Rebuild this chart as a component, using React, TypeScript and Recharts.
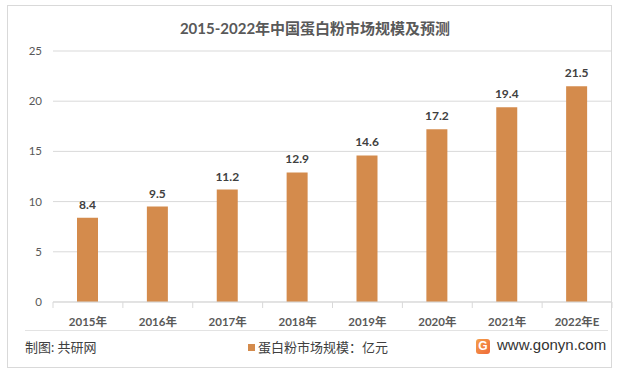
import React from "react";
import { BarChart, Bar, XAxis, YAxis, CartesianGrid, LabelList } from "recharts";

const categories = ["2015年", "2016年", "2017年", "2018年", "2019年", "2020年", "2021年", "2022年E"];
const marketSize = [8.4, 9.5, 11.2, 12.9, 14.6, 17.2, 19.4, 21.5];
const yTicks = [0, 5, 10, 15, 20, 25];
const seriesName = "蛋白粉市场规模：亿元";
const titleText = "2015-2022年中国蛋白粉市场规模及预测";
const sourceText = "制图: 共研网";
const siteText = "www.gonyn.com";

const data = categories.map((c, i) => ({ name: c, value: marketSize[i] }));

const W = 617;
const H = 374;
const M = { top: 51, right: 5, bottom: 42, left: 0 };
const Y_W = 53;
const PLOT_W = W - M.left - M.right - Y_W;
const BAND = PLOT_W / categories.length;
const FONT = "Lato, 'Noto Sans CJK SC', sans-serif";
const BAR_COLOR = "#D48B4C";

const XTick = (props: any) => {
  const { x, y, payload, index } = props;
  const isLast = index === categories.length - 1;
  return (
    <g>
      <line x1={x - BAND / 2} x2={x - BAND / 2} y1={y} y2={y + 6} stroke="#d9d9d9" />
      {isLast && <line x1={x + BAND / 2} x2={x + BAND / 2} y1={y} y2={y + 6} stroke="#d9d9d9" />}
      <text x={x} y={y + 24} textAnchor="middle" fill="#595959" fontSize={11.5} fontWeight={700} fontFamily={FONT}>
        {payload.value}
      </text>
    </g>
  );
};

export default function App() {
  return (
    <div style={{ position: "absolute", left: 0, top: 0, width: W, height: H, background: "#fff", fontFamily: FONT }}>
      <div style={{ position: "absolute", left: 7, top: 5, width: 603, height: 361, border: "1px solid #d9d9d9" }} />
      <div style={{ position: "absolute", left: 0, top: 18, width: 630, textAlign: "center", fontSize: 15, fontWeight: 700, color: "#595959", lineHeight: "20px" }}>
        {titleText}
      </div>
      <div style={{ position: "absolute", left: 0, top: 0 }}>
        <BarChart width={W} height={H} data={data} margin={M}>
          <CartesianGrid vertical={false} stroke="#d9d9d9" />
          <XAxis
            dataKey="name"
            height={30}
            tickSize={0}
            tickMargin={0}
            tickLine={false}
            axisLine={{ stroke: "#d9d9d9" }}
            tick={<XTick />}
            interval={0}
          />
          <YAxis
            width={Y_W}
            domain={[0, 25]}
            ticks={yTicks}
            axisLine={false}
            tickLine={false}
            tickSize={0}
            tickMargin={11}
            tick={{ fill: "#595959", fontSize: 11.5, fontFamily: FONT }}
          />
          <Bar dataKey="value" name={seriesName} fill={BAR_COLOR} barSize={21} isAnimationActive={false}>
            <LabelList dataKey="value" position="top" offset={9} fill="#404040" fontSize={12} fontWeight={700} fontFamily={FONT} />
          </Bar>
        </BarChart>
      </div>
      <div style={{ position: "absolute", left: 25, top: 330, width: 583, height: 0, borderTop: "1px solid #e3e3e3" }} />
      <div style={{ position: "absolute", left: 25, top: 338, fontSize: 13, color: "#404040", lineHeight: "18px", whiteSpace: "nowrap" }}>
        {sourceText}
      </div>
      <div style={{ position: "absolute", left: 248, top: 338, fontSize: 13, color: "#404040", lineHeight: "18px", whiteSpace: "nowrap", display: "flex", alignItems: "center" }}>
        <span style={{ display: "inline-block", width: 7, height: 7, background: BAR_COLOR, marginRight: 3 }} />
        <span>{seriesName}</span>
      </div>
      <div style={{ position: "absolute", left: 476, top: 339, width: 14, height: 15, borderRadius: 3, background: "linear-gradient(135deg, #f5a04a, #ef6a3a)", color: "#fff", fontSize: 12, fontWeight: 700, lineHeight: "15px", textAlign: "center", fontFamily: "'Liberation Sans', sans-serif" }}>
        G
      </div>
      <div style={{ position: "absolute", left: 497, top: 336, fontSize: 15, color: "#333", lineHeight: "18px", whiteSpace: "nowrap", fontFamily: "'Liberation Sans', 'Noto Sans', sans-serif" }}>
        {siteText}
      </div>
    </div>
  );
}
